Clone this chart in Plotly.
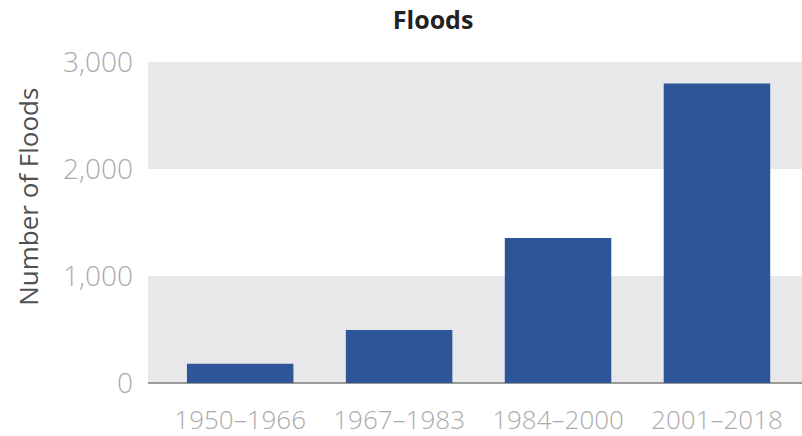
import plotly.graph_objects as go

periods = ["1950–1966", "1967–1983", "1984–2000", "2001–2018"]
floods = [180, 495, 1355, 2800]
y_ticks = [0, 1000, 2000, 3000]
y_tick_labels = ["0", "1,000", "2,000", "3,000"]

BAR = "#2E5597"
BAND = "#E8E8EA"
TICK = "#ABABAB"

fig = go.Figure()
fig.add_trace(go.Bar(
    x=list(range(len(periods))), y=floods,
    marker=dict(color=BAR, line=dict(width=0)),
    width=0.67,
))

for lo, hi in [(0, 1000), (2000, 3000)]:
    fig.add_shape(type="rect", xref="paper", yref="y", x0=0, x1=1, y0=lo, y1=hi,
                  fillcolor=BAND, line=dict(width=0), layer="below")

fig.add_annotation(text="Number of Floods", textangle=-90, showarrow=False,
                   xref="paper", yref="paper", x=-0.1835, y=0.58,
                   xanchor="center", yanchor="middle",
                   font=dict(family="Open Sans", size=26, color="#505050"))

fig.update_layout(
    width=802, height=436,
    margin=dict(l=148, r=0, t=62, b=53),
    paper_bgcolor="white", plot_bgcolor="white",
    showlegend=False,
    title=dict(text="<b>Floods</b>", x=0.54, xanchor="center", y=0.953, yanchor="middle",
               font=dict(family="Open Sans", size=25, color="#222222")),
    xaxis=dict(
        range=[-0.58, 3.535], tickmode="array",
        tickvals=list(range(len(periods))), ticktext=periods,
        tickfont=dict(family="Open Sans", size=26, color=TICK, weight=300),
        showgrid=False, zeroline=False, showline=False, ticks="",
        ticklabelstandoff=19,
    ),
    yaxis=dict(
        range=[0, 3000], tickmode="array", tickvals=y_ticks, ticktext=y_tick_labels,
        tickfont=dict(family="Open Sans", size=28, color=TICK, weight=300),
        showgrid=False, zeroline=True, zerolinecolor="#9A9A9A", zerolinewidth=1.5,
        showline=False, ticks="", ticklabelstandoff=14,
    ),
)

fig.write_html("out.html")
